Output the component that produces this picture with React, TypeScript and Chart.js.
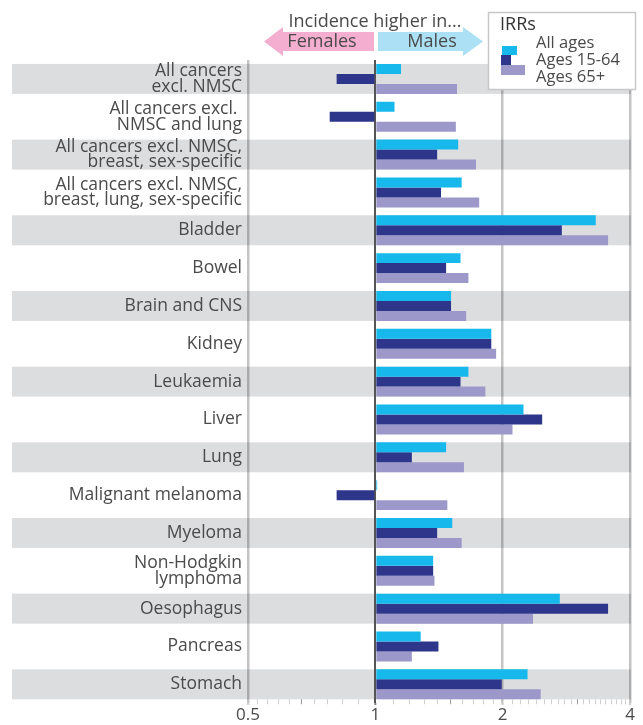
import React, { useEffect, useRef } from "react";
import { Chart, registerables } from "chart.js";

Chart.register(...registerables);

const categories: (string | string[])[] = [
  ["All cancers", "excl. NMSC"],
  ["All cancers excl. ", "NMSC and lung"],
  ["All cancers excl. NMSC,", "breast, sex-specific"],
  ["All cancers excl. NMSC,", "breast, lung, sex-specific"],
  "Bladder",
  "Bowel",
  "Brain and CNS",
  "Kidney",
  "Leukaemia",
  "Liver",
  "Lung",
  "Malignant melanoma",
  "Myeloma",
  ["Non-Hodgkin", "lymphoma"],
  "Oesophagus",
  "Pancreas",
  "Stomach",
];

const allAges = [1.15, 1.11, 1.57, 1.6, 3.32, 1.59, 1.51, 1.88, 1.66, 2.24, 1.47, 1.01, 1.52, 1.37, 2.73, 1.28, 2.29];
const ages15to64 = [0.81, 0.78, 1.4, 1.43, 2.76, 1.47, 1.51, 1.88, 1.59, 2.48, 1.22, 0.81, 1.4, 1.37, 3.55, 1.41, 1.99];
const ages65plus = [1.56, 1.55, 1.73, 1.76, 3.55, 1.66, 1.64, 1.93, 1.82, 2.11, 1.62, 1.48, 1.6, 1.38, 2.36, 1.22, 2.46];

const seriesNames = ["All ages", "Ages 15-64", "Ages 65+"];
const seriesColors = ["#17b9ec", "#2d368b", "#9c98ca"];

const majorTicks = [0.5, 1, 2, 4];
const minorTicks = [
  1 / 1.1, 1 / 1.2, 1 / 1.3, 1 / 1.4, 1 / 1.5, 1 / 1.6, 1 / 1.7, 1 / 1.8, 1 / 1.9,
  1.1, 1.2, 1.3, 1.4, 1.5, 1.6, 1.7, 1.8, 1.9,
  2.1, 2.2, 2.3, 2.4, 2.5, 2.6, 2.7, 2.8, 2.9, 3, 3.1, 3.2, 3.3, 3.4, 3.5, 3.6, 3.7, 3.8, 3.9,
];
const midTicks = [1 / 1.5, 1.5, 3];

const FONT = "'Open Sans', 'Lato', sans-serif";
const TEXT = "#4a4a4a";
const BAND_FRAC = 0.792;

const bandsPlugin = {
  id: "bands",
  beforeDraw(chart: any) {
    const { ctx, chartArea, scales } = chart;
    const y = scales.y;
    const pitch = (chartArea.bottom - chartArea.top) / categories.length;
    const h = pitch * BAND_FRAC;
    ctx.save();
    ctx.fillStyle = "#dcdddf";
    categories.forEach((_, i) => {
      if (i % 2 === 0) {
        const c = y.getPixelForValue(i);
        ctx.fillRect(12, c - h / 2, chartArea.right + 1 - 12, h);
      }
    });
    ctx.restore();
  },
};

const decorPlugin = {
  id: "decor",
  afterDraw(chart: any) {
    const { ctx, chartArea, scales } = chart;
    const x = scales.x;
    ctx.save();
    // minor tick marks
    const b = chartArea.bottom;
    minorTicks.forEach((v) => {
      const px = Math.round(x.getPixelForValue(v)) + 0.5;
      const mid = midTicks.some((m) => Math.abs(m - v) < 1e-9);
      ctx.strokeStyle = mid ? "#9a9a9a" : "#cfcfcf";
      ctx.lineWidth = 1;
      ctx.beginPath();
      ctx.moveTo(px, b - 4);
      ctx.lineTo(px, b + 1);
      ctx.stroke();
    });
    majorTicks.forEach((v) => {
      const px = x.getPixelForValue(v);
      ctx.strokeStyle = v === 1 ? "#555" : "rgba(0,0,0,0.23)";
      ctx.lineWidth = v === 1 ? 2 : 2.5;
      ctx.beginPath();
      ctx.moveTo(px, b);
      ctx.lineTo(px, b + 1.5);
      ctx.stroke();
    });

    // header arrows
    ctx.fillStyle = "#f4aed0";
    ctx.beginPath();
    ctx.moveTo(264, 41.5);
    ctx.lineTo(283, 27);
    ctx.lineTo(283, 32);
    ctx.lineTo(374, 32);
    ctx.lineTo(374, 51);
    ctx.lineTo(283, 51);
    ctx.lineTo(283, 56);
    ctx.closePath();
    ctx.fill();
    ctx.fillStyle = "#ace1f5";
    ctx.beginPath();
    ctx.moveTo(378, 32);
    ctx.lineTo(463, 32);
    ctx.lineTo(463, 27);
    ctx.lineTo(483, 41.5);
    ctx.lineTo(463, 56);
    ctx.lineTo(463, 51);
    ctx.lineTo(378, 51);
    ctx.closePath();
    ctx.fill();

    ctx.fillStyle = TEXT;
    ctx.textBaseline = "middle";
    ctx.textAlign = "center";
    ctx.font = `18px ${FONT}`;
    ctx.fillText("Incidence higher in...", 375, 22);
    ctx.fillText("Females", 322, 42);
    ctx.fillText("Males", 432, 42);

    // legend box
    ctx.fillStyle = "#ffffff";
    ctx.fillRect(488, 12, 148, 78);
    ctx.strokeStyle = "#c8c8c8";
    ctx.lineWidth = 1.5;
    ctx.strokeRect(488.5, 12.5, 147, 77);
    ctx.textAlign = "left";
    ctx.fillStyle = "#333";
    ctx.font = `18px ${FONT}`;
    ctx.fillText("IRRs", 500, 25);
    ctx.fillStyle = seriesColors[0];
    ctx.fillRect(502, 46, 15, 9);
    ctx.fillStyle = seriesColors[1];
    ctx.fillRect(501, 55, 10, 10);
    ctx.fillStyle = seriesColors[2];
    ctx.fillRect(501, 65, 24, 10);
    ctx.fillStyle = TEXT;
    ctx.font = `16.5px ${FONT}`;
    ctx.fillText(seriesNames[0], 536, 43);
    ctx.fillText(seriesNames[1], 536, 60);
    ctx.fillText(seriesNames[2], 536, 77);
    ctx.restore();
  },
};

export default function App() {
  const ref = useRef<HTMLCanvasElement>(null);
  useEffect(() => {
    if (!ref.current) return;
    const data = [allAges, ages15to64, ages65plus];
    const chart = new Chart(ref.current, {
      type: "bar",
      data: {
        labels: categories as any,
        datasets: data.map((d, i) => ({
          label: seriesNames[i],
          data: d,
          base: 1,
          backgroundColor: seriesColors[i],
          borderWidth: 0,
          categoryPercentage: BAND_FRAC,
          barPercentage: 1,
        })),
      },
      options: {
        indexAxis: "y",
        animation: false,
        responsive: false,
        devicePixelRatio: 1,
        layout: { padding: { top: 60, right: 13, left: 0, bottom: 0 } },
        plugins: { legend: { display: false }, tooltip: { enabled: false }, title: { display: false } },
        scales: {
          x: {
            type: "logarithmic",
            min: 0.5,
            max: 4,
            afterBuildTicks: (scale: any) => {
              scale.ticks = majorTicks.map((v) => ({ value: v }));
            },
            afterFit: (scale: any) => {
              scale.height = 21;
              scale.paddingLeft = 0;
              scale.paddingRight = 0;
            },
            ticks: {
              autoSkip: false,
              maxRotation: 0,
              padding: 2,
              color: TEXT,
              font: { family: FONT, size: 17 },
              callback: (v: any) => String(v),
            },
            grid: {
              drawTicks: false,
              color: (c: any) => (c.tick && c.tick.value === 1 ? "#555555" : "rgba(0,0,0,0.23)"),
              lineWidth: (c: any) => (c.tick && c.tick.value === 1 ? 2 : 2.5),
            },
            border: { display: false },
          },
          y: {
            type: "category",
            afterFit: (scale: any) => {
              scale.width = 248;
            },
            ticks: {
              padding: 6,
              color: TEXT,
              font: { family: FONT, size: 17.5, lineHeight: 0.9 },
              autoSkip: false,
            },
            grid: { display: false, drawTicks: false },
            border: { display: false },
          },
        },
      } as any,
      plugins: [bandsPlugin, decorPlugin],
    });
    return () => chart.destroy();
  }, []);
  return (
    <div style={{ position: "absolute", left: 0, top: 0, width: 643, height: 725 }}>
      <canvas ref={ref} width={643} height={725} style={{ display: "block", width: 643, height: 725 }} />
    </div>
  );
}
